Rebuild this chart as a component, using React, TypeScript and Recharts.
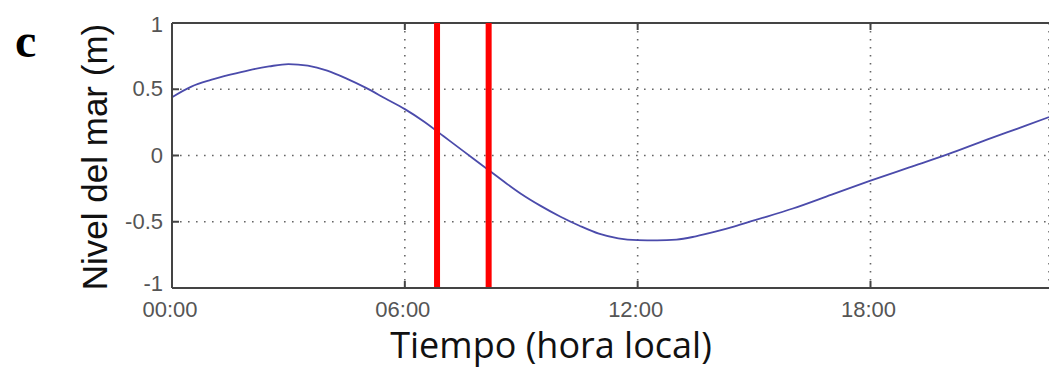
import React from "react";
import {
  CartesianGrid,
  Line,
  LineChart,
  ReferenceLine,
  XAxis,
  YAxis,
} from "recharts";

const HOURS = [
  0, 0.5, 1, 1.5, 2, 2.5, 3, 3.5, 4, 4.5, 5, 5.5, 6, 6.5, 7, 7.5, 8, 8.5, 9,
  9.5, 10, 10.5, 11, 11.5, 12, 12.5, 13, 13.5, 14, 14.5, 15, 16, 17, 18, 19,
  20, 21, 22, 22.6,
];
const LEVEL = [
  0.44, 0.52, 0.57, 0.61, 0.645, 0.672, 0.69, 0.678, 0.64, 0.58, 0.51, 0.43,
  0.35, 0.255, 0.145, 0.035, -0.075, -0.185, -0.29, -0.38, -0.46, -0.53, -0.59,
  -0.625, -0.638, -0.64, -0.635, -0.61, -0.575, -0.535, -0.49, -0.4, -0.295,
  -0.19, -0.09, 0.01, 0.12, 0.225, 0.29,
];
const X_TICKS = [0, 6, 12, 18];
const X_TICK_LABELS = ["00:00", "06:00", "12:00", "18:00"];
const Y_TICKS = [-1, -0.5, 0, 0.5, 1];
const MARKERS = [6.83, 8.16];

const data = HOURS.map((h, i) => ({ hour: h, level: LEVEL[i] }));

const TICK_COLOR = "#555";
const AXIS_COLOR = "#444";

const XTick = (props: any) => {
  const { x, y, payload } = props;
  const idx = X_TICKS.indexOf(payload.value);
  return (
    <g>
      {payload.value !== 0 && (
        <>
          <line x1={x} x2={x} y1={y - 13} y2={y - 20} stroke={AXIS_COLOR} strokeWidth={2} />
          <line x1={x} x2={x} y1={y - 278} y2={y - 271} stroke={AXIS_COLOR} strokeWidth={2} />
        </>
      )}
      <text
        x={x - 2}
        y={y}
        dy={16}
        textAnchor="middle"
        fill={TICK_COLOR}
        fontFamily="Liberation Sans, Arial, sans-serif"
        fontSize={22}
      >
        {X_TICK_LABELS[idx]}
      </text>
    </g>
  );
};

const YTick = (props: any) => {
  const { x, y, payload } = props;
  const v = payload.value;
  return (
    <g>
      {v !== 1 && v !== -1 && (
        <line x1={x + 9} x2={x + 16} y1={y} y2={y} stroke={AXIS_COLOR} strokeWidth={2} />
      )}
      <text
        x={x}
        y={y}
        dy={v === -1 ? 3 : v === 1 ? 9 : 7}
        textAnchor="end"
        fill={TICK_COLOR}
        fontFamily="Liberation Sans, Arial, sans-serif"
        fontSize={22}
      >
        {String(v)}
      </text>
    </g>
  );
};

export default function App() {
  return (
    <div style={{ position: "absolute", left: 0, top: 0, background: "#fff" }}>
      <LineChart
        width={1049}
        height={371}
        data={data}
        margin={{ top: 23, right: 0, bottom: 0, left: 0 }}
      >
        <CartesianGrid stroke="#666" strokeWidth={1.6} strokeDasharray="1.6 6.4" />
        <XAxis
          dataKey="hour"
          type="number"
          domain={[0, 22.6]}
          ticks={X_TICKS}
          allowDataOverflow
          height={83}
          tickSize={0}
          tickMargin={13}
          tick={<XTick />}
          axisLine={{ stroke: AXIS_COLOR, strokeWidth: 2 }}
        />
        <YAxis
          type="number"
          domain={[-1, 1]}
          ticks={Y_TICKS}
          width={172}
          tickSize={0}
          tickMargin={9}
          tick={<YTick />}
          axisLine={{ stroke: AXIS_COLOR, strokeWidth: 2 }}
        />
        <ReferenceLine y={1} stroke={AXIS_COLOR} strokeWidth={2} />
        <Line
          type="monotone"
          dataKey="level"
          stroke="#4b4bab"
          strokeWidth={1.8}
          dot={false}
          isAnimationActive={false}
        />
        {MARKERS.map((m) => (
          <ReferenceLine key={m} x={m} stroke="#ff0000" strokeWidth={6} />
        ))}
        <text
          x={107}
          y={157}
          transform="rotate(-90 107 157)"
          textAnchor="middle"
          fill="#111"
          fontFamily="Liberation Sans, Arial, sans-serif"
          fontSize={35}
        >
          Nivel del mar (m)
        </text>
        <text
          x={551}
          y={358}
          textAnchor="middle"
          fill="#111"
          fontFamily="Open Sans, sans-serif"
          fontSize={36}
        >
          Tiempo (hora local)
        </text>
        <text
          x={15}
          y={57}
          fill="#000"
          fontFamily="Liberation Serif, Times New Roman, serif"
          fontWeight="bold"
          fontSize={48}
        >
          c
        </text>
      </LineChart>
    </div>
  );
}
